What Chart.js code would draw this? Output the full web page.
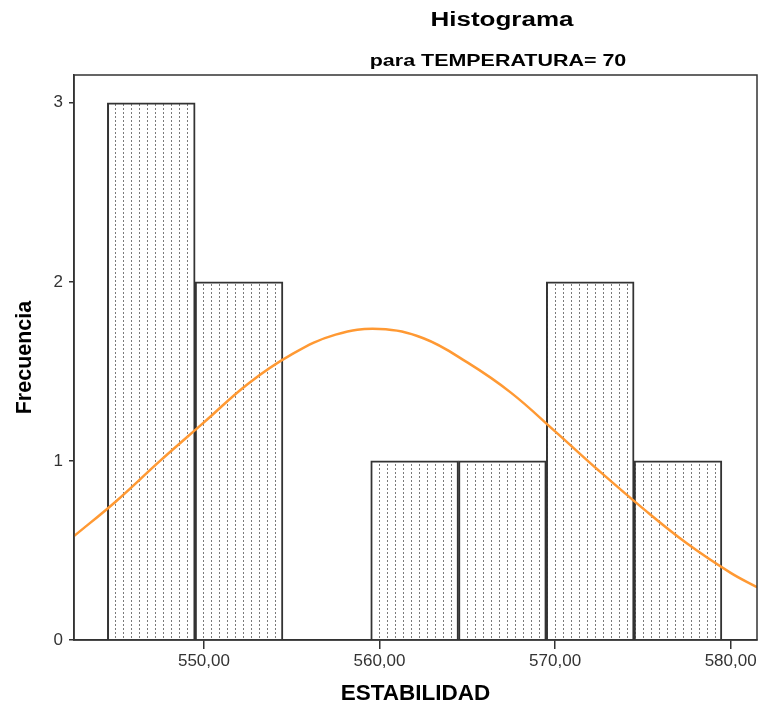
<!DOCTYPE html>
<html>
<head>
<meta charset="utf-8">
<script src="https://cdn.jsdelivr.net/npm/chart.js@4"></script>
<style>
  html, body { margin: 0; padding: 0; background: #fff; }
</style>
</head>
<body>
<canvas id="histo" width="761" height="711"></canvas>
<script>
// Histogram data
const binCenters = [547, 552, 557, 562, 567, 572, 577];
const frequencies = [3, 2, 0, 1, 1, 2, 1];

// Normal curve
const curveX = [542.6, 545, 547.5, 550, 552.5, 555, 557.5, 560, 562.5, 565, 567.5, 570, 572.5, 575, 577.5, 580, 581.5];
const curveY = [0.58, 0.775, 1.0, 1.215, 1.43, 1.595, 1.705, 1.737, 1.685, 1.55, 1.38, 1.165, 0.945, 0.735, 0.54, 0.375, 0.295];

const xTicks = [550, 560, 570, 580];
const yTicks = [0, 1, 2, 3];

const FONT = '"Liberation Sans", Arial, sans-serif';

// Dotted fill like the SPSS bars
function makePattern(ctx) {
    const c = document.createElement('canvas');
    c.width = 8;
    c.height = 4;
    const g = c.getContext('2d');
    g.fillStyle = '#fff';
    g.fillRect(0, 0, 8, 4);
    g.fillStyle = '#7a7a7a';
    g.fillRect(3, 0, 1, 2);
    return ctx.createPattern(c, 'repeat');
}

// Box around the plot area
const frame = {
    id: 'frame',
    afterDatasetsDraw(chart) {
        const { ctx, chartArea: a } = chart;
        ctx.save();
        ctx.strokeStyle = '#333';
        ctx.lineWidth = 1.5;
        ctx.strokeRect(a.left, a.top, a.right - a.left, a.bottom - a.top);
        ctx.restore();
    }
};

// Title + subtitle (text in the original is a bit wider than normal)
const titles = {
    id: 'titles',
    afterDraw(chart) {
        const ctx = chart.ctx;
        ctx.save();
        ctx.fillStyle = '#000';
        ctx.textAlign = 'center';
        ctx.textBaseline = 'alphabetic';

        ctx.save();
        ctx.translate(502, 26);
        ctx.scale(1.3, 1);
        ctx.font = 'bold 20px ' + FONT;
        ctx.fillText('Histograma', 0, 0);
        ctx.restore();

        ctx.save();
        ctx.translate(498, 66);
        ctx.scale(1.3, 1);
        ctx.font = 'bold 16.5px ' + FONT;
        ctx.fillText('para TEMPERATURA= 70', 0, 0);
        ctx.restore();

        ctx.restore();
    }
};

const canvas = document.getElementById('histo');
const ctx = canvas.getContext('2d');

new Chart(ctx, {
    type: 'bar',
    data: {
        datasets: [
            {
                type: 'line',
                data: curveX.map((x, i) => ({ x: x, y: curveY[i] })),
                borderColor: '#FF9933',
                borderWidth: 2.5,
                pointRadius: 0,
                tension: 0.4,
                fill: false,
                order: 0
            },
            {
                type: 'bar',
                data: binCenters.map((x, i) => ({ x: x, y: frequencies[i] })),
                backgroundColor: makePattern(ctx),
                borderColor: '#333',
                borderWidth: 2,
                barPercentage: 1,
                categoryPercentage: 1,
                order: 1
            }
        ]
    },
    options: {
        responsive: false,
        animation: false,
        layout: { padding: { top: 75, right: 4, left: 0, bottom: 0 } },
        plugins: {
            legend: { display: false },
            tooltip: { enabled: false },
            title: { display: false }
        },
        scales: {
            x: {
                type: 'linear',
                min: 542.6,
                max: 581.5,
                offset: false,
                afterBuildTicks: s => { s.ticks = xTicks.map(v => ({ value: v })); },
                afterFit: s => { s.height = 71; },
                grid: {
                    display: true,
                    offset: false,
                    drawOnChartArea: false,
                    drawTicks: true,
                    tickLength: 9,
                    color: '#333',
                    lineWidth: 1.5
                },
                border: { display: true, color: '#333', width: 1.5 },
                ticks: {
                    color: '#333',
                    font: { family: FONT, size: 17 },
                    padding: 2,
                    maxRotation: 0,
                    autoSkip: false,
                    callback: v => v.toFixed(2).replace('.', ',')
                },
                title: {
                    display: true,
                    text: 'ESTABILIDAD',
                    color: '#000',
                    font: { family: FONT, size: 22.5, weight: 'bold' },
                    padding: { top: 0, bottom: 4 }
                }
            },
            y: {
                min: 0,
                max: 3.155,
                afterBuildTicks: s => { s.ticks = yTicks.map(v => ({ value: v })); },
                afterFit: s => { s.width = 74; },
                grid: {
                    display: true,
                    drawOnChartArea: false,
                    drawTicks: true,
                    tickLength: 5,
                    color: '#333',
                    lineWidth: 1.5
                },
                border: { display: true, color: '#333', width: 1.5 },
                ticks: {
                    color: '#333',
                    font: { family: FONT, size: 17 },
                    padding: 6
                },
                title: {
                    display: true,
                    text: 'Frecuencia',
                    color: '#000',
                    font: { family: FONT, size: 21.5, weight: 'bold' },
                    padding: { top: 12, bottom: 0 }
                }
            }
        }
    },
    plugins: [frame, titles]
});
</script>
</body>
</html>
